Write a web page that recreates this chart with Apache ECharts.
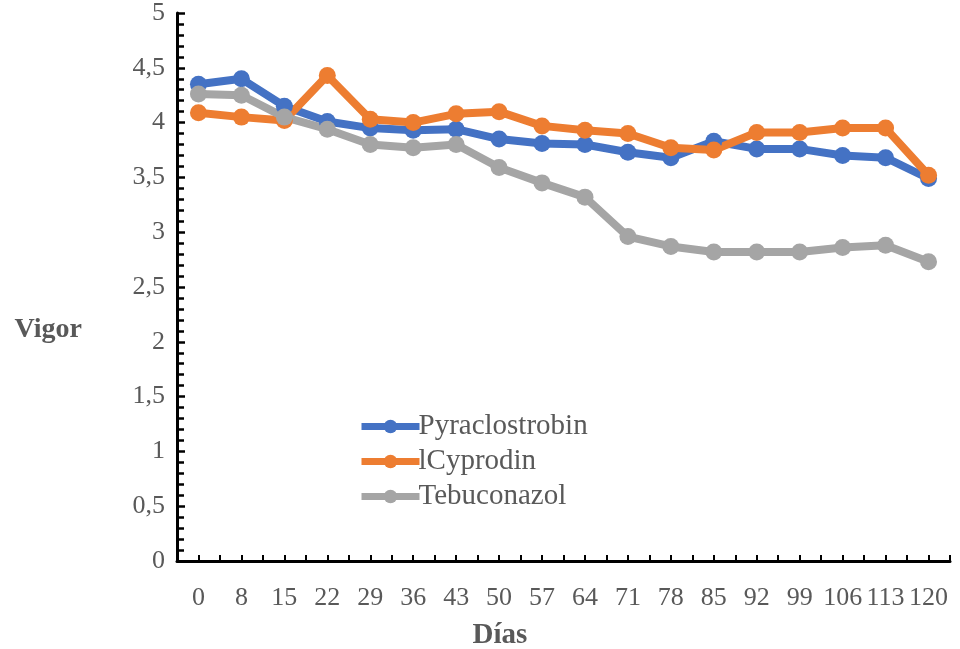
<!DOCTYPE html>
<html>
<head>
<meta charset="utf-8">
<script src="https://cdn.jsdelivr.net/npm/echarts@6/dist/echarts.min.js"></script>
<style>html,body{margin:0;padding:0;background:#fff}#c{width:960px;height:649px}</style>
</head>
<body>
<div id="c"></div>
<script>
const categories = ['0','8','15','22','29','36','43','50','57','64','71','78','85','92','99','106','113','120'];
const pyraclostrobin = [4.35,4.40,4.15,4.01,3.95,3.93,3.94,3.85,3.81,3.80,3.73,3.68,3.83,3.76,3.76,3.70,3.68,3.49];
const cyprodin = [4.09,4.05,4.02,4.43,4.03,4.00,4.08,4.10,3.97,3.93,3.90,3.77,3.75,3.91,3.91,3.95,3.95,3.52];
const tebuconazol = [4.26,4.25,4.05,3.94,3.80,3.77,3.80,3.59,3.45,3.32,2.96,2.87,2.82,2.82,2.82,2.86,2.88,2.73];
const seriesNames = ['Pyraclostrobin','lCyprodin','Tebuconazol'];
const colors = ['#4472C4','#ED7D31','#A5A5A5'];

const font = '"Liberation Serif","Times New Roman",serif';
const txt = '#595959';
const chart = echarts.init(document.getElementById('c'), null, {renderer:'canvas'});
function mk(name, data, color){
  return {
    name, type:'line', data, xAxisIndex:0,
    symbol:'circle', symbolSize:17,
    lineStyle:{width:8, color:color},
    itemStyle:{color:color},
    emphasis:{disabled:true},
    animation:false
  };
}
chart.setOption({
  animation:false,
  grid:{left:177, right:10, top:13, bottom:88, containLabel:false, outerBoundsMode:'none'},
  legend:{
    orient:'vertical', left:353, top:407,
    itemWidth:58, itemHeight:17, itemGap:6,
    lineStyle:{width:7},
    textStyle:{fontFamily:font, fontSize:29, color:txt, padding:[0,0,0,-6]},
    data:seriesNames
  },
  xAxis:[{
    type:'category', data:categories, boundaryGap:true,
    name:'Días', nameLocation:'middle', nameGap:75,
    nameTextStyle:{fontFamily:font, fontSize:29, fontWeight:'bold', color:txt, verticalAlign:'middle', padding:[0,127,0,0]},
    axisLine:{show:true, lineStyle:{color:'#000', width:3}},
    axisTick:{show:true, inside:true, length:6, lineStyle:{color:'#000', width:2}, alignWithLabel:false},
    axisLabel:{fontFamily:font, fontSize:26, color:txt, margin:24, interval:0},
    splitLine:{show:false}
  },{
    type:'category', data:categories, boundaryGap:true, position:'bottom',
    axisLine:{show:false},
    axisTick:{show:true, inside:true, length:6, lineStyle:{color:'#000', width:2}, alignWithLabel:true},
    axisLabel:{show:false},
    splitLine:{show:false}
  }],
  yAxis:{
    type:'value', min:0, max:5, interval:0.5,
    name:'Vigor', nameLocation:'middle', nameGap:95, nameRotate:0,
    nameTextStyle:{fontFamily:font, fontSize:28, fontWeight:'bold', color:txt, align:'right', verticalAlign:'top', padding:[29,0,0,0]},
    axisLine:{show:true, lineStyle:{color:'#000', width:3}},
    axisTick:{show:true, inside:true, length:8, lineStyle:{color:'#000', width:2.5}},
    minorTick:{show:true, splitNumber:5, length:7, lineStyle:{color:'#000', width:2.5}},
    axisLabel:{fontFamily:font, fontSize:26, color:txt, margin:12, formatter:v=>String(v).replace('.',',')},
    splitLine:{show:false}
  },
  series:[
    mk(seriesNames[0], pyraclostrobin, colors[0]),
    mk(seriesNames[1], cyprodin, colors[1]),
    mk(seriesNames[2], tebuconazol, colors[2])
  ]
});
</script>
</body>
</html>
